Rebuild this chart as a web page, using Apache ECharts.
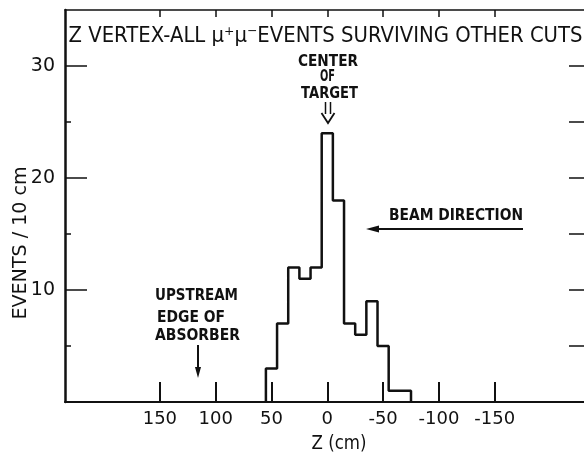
<!DOCTYPE html>
<html>
<head>
<meta charset="utf-8">
<script src="https://cdn.jsdelivr.net/npm/echarts@6/dist/echarts.min.js"></script>
<style>
html,body{margin:0;padding:0;background:#fff;}
#chart{width:584px;height:455px;}
</style>
</head>
<body>
<div id="chart"></div>
<script>
// ---- data ----
var binCenters = [50, 40, 30, 20, 10, 0, -10, -20, -30, -40, -50, -60, -70];
var counts     = [3, 7, 12, 11, 12, 24, 18, 7, 6, 9, 5, 1, 1];
var binWidth = 10;
var xTickValues = [150, 100, 50, 0, -50, -100, -150];
var yMajorTicks = [10, 20, 30];
var yMinorTicks = [5, 15, 25];
var yRightTicks = [5, 10, 15, 20, 25, 30];

var titleText = 'Z VERTEX-ALL \u03bc\u207a\u03bc\u207bEVENTS SURVIVING OTHER CUTS';

// build step outline from bins
var outline = [];
outline.push([binCenters[0] + binWidth / 2, 0]);
for (var i = 0; i < binCenters.length; i++) {
  outline.push([binCenters[i] + binWidth / 2, counts[i]]);
  outline.push([binCenters[i] - binWidth / 2, counts[i]]);
}
outline.push([binCenters[binCenters.length - 1] - binWidth / 2, 0]);

var FONT = '"DejaVu Sans", "Liberation Sans", sans-serif';
var mctx = document.createElement('canvas').getContext('2d');
function measure(str, size, weight) {
  mctx.font = weight + ' ' + size + 'px ' + FONT;
  return mctx.measureText(str).width;
}
function txt(str, cx, cy, targetW, size, weight, rot) {
  var w = measure(str, size, weight);
  return {
    type: 'text', x: cx, y: cy, rotation: rot || 0,
    scaleX: targetW / w, scaleY: 1,
    style: { text: str, x: 0, y: 0, align: 'center', verticalAlign: 'middle',
      font: weight + ' ' + size + 'px ' + FONT, fill: '#111' },
    z: 100
  };
}
function line(x1, y1, x2, y2, w) {
  return { type: 'line', shape: { x1: x1, y1: y1, x2: x2, y2: y2 },
    style: { stroke: '#111', lineWidth: w || 1.5 }, z: 100 };
}
function poly(pts) {
  return { type: 'polygon', shape: { points: pts }, style: { fill: '#111' }, z: 100 };
}

var chart = echarts.init(document.getElementById('chart'), null, { renderer: 'canvas' });

var xCommon = { type: 'value', min: -230, max: 235, inverse: true, splitLine: { show: false } };

var option = {
  backgroundColor: '#fff',
  animation: false,
  grid: { left: 65, right: -4, top: 10, bottom: 53 },
  xAxis: [
    Object.assign({}, xCommon, {
      position: 'bottom',
      axisLine: { show: true, onZero: false, lineStyle: { color: '#111', width: 2 } },
      axisTick: { show: true, inside: true, length: 20, customValues: xTickValues, lineStyle: { color: '#111', width: 2 } },
      axisLabel: { show: true, customValues: xTickValues, margin: 8, color: '#111', fontSize: 18, fontFamily: 'DejaVu Sans' }
    }),
    Object.assign({}, xCommon, {
      position: 'top',
      axisLine: { show: true, onZero: false, lineStyle: { color: '#111', width: 1.5 } },
      axisTick: { show: true, inside: true, length: 7, customValues: xTickValues, lineStyle: { color: '#111', width: 1.5 } },
      axisLabel: { show: false }
    })
  ],
  yAxis: [
    {
      type: 'value', min: 0, max: 35, interval: 5, position: 'left',
      splitLine: { show: false },
      axisLine: { show: true, onZero: false, lineStyle: { color: '#111', width: 2.5 } },
      axisTick: { show: true, inside: true, length: 22, customValues: yMajorTicks, lineStyle: { color: '#111', width: 1.5 } },
      axisLabel: { show: true, customValues: yMajorTicks, margin: 10, color: '#111', fontSize: 19, fontFamily: 'DejaVu Sans' }
    },
    {
      type: 'value', min: 0, max: 35, interval: 5, position: 'left', offset: 0,
      splitLine: { show: false },
      axisLine: { show: false, onZero: false },
      axisTick: { show: true, inside: true, length: 6, customValues: yMinorTicks, lineStyle: { color: '#111', width: 1.5 } },
      axisLabel: { show: false }
    },
    {
      type: 'value', min: 0, max: 35, interval: 5, position: 'right', offset: 0,
      splitLine: { show: false },
      axisLine: { show: false, onZero: false },
      axisTick: { show: true, inside: true, length: 15, customValues: yRightTicks, lineStyle: { color: '#111', width: 1.5 } },
      axisLabel: { show: false }
    }
  ],
  series: [{
    type: 'line',
    xAxisIndex: 0, yAxisIndex: 0,
    data: outline,
    symbol: 'none',
    lineStyle: { color: '#111', width: 2.5 },
    clip: false,
    z: 5
  }],
  graphic: [
    txt(titleText, 325.5, 36, 514, 22, 'normal'),
    txt('CENTER', 328, 61.5, 60, 16, 'bold'),
    txt('OF', 327.5, 77, 15, 16, 'bold'),
    txt('TARGET', 329.5, 93.5, 57, 16, 'bold'),
    line(325.5, 102, 325.5, 114, 1.5),
    line(330.5, 102, 330.5, 114, 1.5),
    { type: 'polyline', shape: { points: [[321.5, 113], [328, 123], [334.5, 113]] },
      style: { stroke: '#111', lineWidth: 1.8, fill: null }, z: 100 },
    txt('BEAM DIRECTION', 456, 216, 134, 16, 'bold'),
    line(523, 229, 376, 229, 1.8),
    poly([[366, 229], [379, 225.5], [379, 232.5]]),
    txt('UPSTREAM', 196.5, 296, 83, 16, 'bold'),
    txt('EDGE OF', 191, 317.5, 68, 16, 'bold'),
    txt('ABSORBER', 197.5, 336, 85, 16, 'bold'),
    line(198, 345, 198, 370, 2),
    poly([[198, 378], [195, 367], [201, 367]]),
    txt('EVENTS / 10 cm', 21, 243, 153, 20, 'normal', Math.PI / 2),
    txt('Z (cm)', 339, 444, 55, 19, 'normal')
  ]
};
chart.setOption(option);
</script>
</body>
</html>
